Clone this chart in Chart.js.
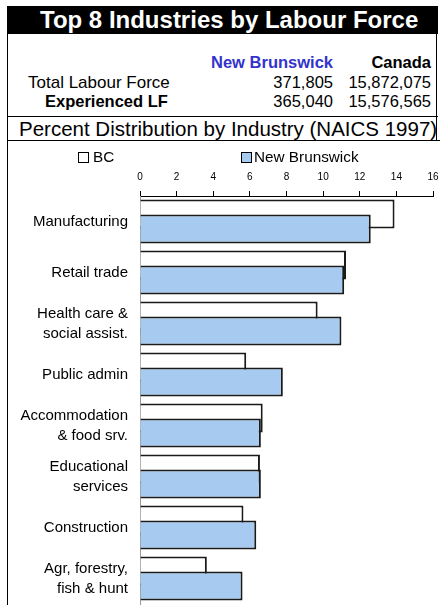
<!DOCTYPE html>
<html>
<head>
<meta charset="utf-8">
<script src="https://cdn.jsdelivr.net/npm/chart.js@4"></script>
<style>
  body { margin: 0; background: #fff; font-family: "Liberation Sans", Arial, sans-serif; }
  #page { position: relative; width: 440px; height: 605px; overflow: hidden; }
  .abs { position: absolute; white-space: nowrap; }
  #title { left: 7px; top: 6px; width: 431px; height: 28px; background: #000; color: #fff; box-sizing: border-box;
           font-weight: bold; font-size: 24px; line-height: 28px; padding-left: 33px; }
  #table { left: 7px; top: 34px; width: 430px; height: 107px; border-left: 1px solid #000; border-right: 1px solid #000; box-sizing: border-box; }
  #line1 { left: 7px; top: 116px; width: 431px; height: 1px; background: #000; }
  #line2 { left: 7px; top: 140px; width: 433px; height: 1px; background: #000; }
  .t { font-size: 16.5px; line-height: 19px; }
  .r { text-align: right; }
  #chartBox { left: 7px; top: 141px; width: 433px; height: 464px; border-left: 1px solid #000; box-sizing: border-box; }
  #chartWrap { position: absolute; left: 0; top: 0; width: 431px; height: 464px; }
  .lgBox { position: absolute; width: 9px; height: 9px; border: 1px solid #000; }
  .lgTxt { position: absolute; font-size: 15.3px; line-height: 18px; }
</style>
</head>
<body>
<div id="page">
  <div id="title" class="abs">Top 8 Industries by Labour Force</div>
  <div id="table" class="abs"></div>
  <div class="abs t r" style="left:180px; top:53px; width:153px; font-weight:bold; color:#3333cc;">New Brunswick</div>
  <div class="abs t r" style="left:340px; top:53px; width:91px; font-weight:bold;">Canada</div>
  <div class="abs t" style="left:28px; top:73px; font-size:17px;" id="row1"></div>
  <div class="abs t r" style="left:240px; top:73px; width:93px;" id="nbTotal"></div>
  <div class="abs t r" style="left:330px; top:73px; width:101px;" id="caTotal"></div>
  <div class="abs t" style="left:45px; top:92px; font-weight:bold;" id="row2"></div>
  <div class="abs t r" style="left:240px; top:92px; width:93px;" id="nbExp"></div>
  <div class="abs t r" style="left:330px; top:92px; width:101px;" id="caExp"></div>
  <div id="line1" class="abs"></div>
  <div class="abs" style="left:19px; top:117px; font-size:20.5px; line-height:24px;">Percent Distribution by Industry (NAICS 1997)</div>
  <div id="line2" class="abs"></div>
  <div id="chartBox" class="abs">
    <div id="chartWrap"><canvas id="industryChart"></canvas></div>
    <div class="lgBox" style="left:70px; top:11px; background:#fff;"></div>
    <div class="lgTxt" style="left:85px; top:7px;">BC</div>
    <div class="lgBox" style="left:233px; top:11px; background:#a6caf0;"></div>
    <div class="lgTxt" style="left:246px; top:7px;">New Brunswick</div>
  </div>
</div>
<script>
// Labour force figures
const labourRows = ['Total Labour Force', 'Experienced LF'];
const nbLabour = ['371,805', '365,040'];
const canadaLabour = ['15,872,075', '15,576,565'];

// Percent distribution by industry
const industries = [
  ['Manufacturing'],
  ['Retail trade'],
  ['Health care &', 'social assist.'],
  ['Public admin'],
  ['Accommodation', '& food srv.'],
  ['Educational', 'services'],
  ['Construction'],
  ['Agr, forestry,', 'fish & hunt']
];
const bcValues = [13.9, 11.25, 9.7, 5.8, 6.7, 6.55, 5.65, 3.65];
const nbValues = [12.6, 11.15, 11.0, 7.8, 6.6, 6.6, 6.35, 5.6];
const xTicks = [0, 2, 4, 6, 8, 10, 12, 14, 16];

document.getElementById('row1').textContent = labourRows[0];
document.getElementById('row2').textContent = labourRows[1];
document.getElementById('nbTotal').textContent = nbLabour[0];
document.getElementById('caTotal').textContent = canadaLabour[0];
document.getElementById('nbExp').textContent = nbLabour[1];
document.getElementById('caExp').textContent = canadaLabour[1];

Chart.defaults.font.family = '"Liberation Sans", Arial, sans-serif';
Chart.defaults.color = '#000';

const ctx = document.getElementById('industryChart').getContext('2d');
new Chart(ctx, {
  type: 'bar',
  data: {
    labels: industries,
    datasets: [
      // empty placeholder so BC keeps the upper slot while NB is drawn over it
      { label: '', data: [], stack: 'bc', order: -1 },
      {
        label: 'New Brunswick',
        data: nbValues,
        stack: 'nb',
        order: 0,
        backgroundColor: '#a6caf0',
        borderColor: '#1a1a1a',
        borderWidth: 2
      },
      {
        label: 'BC',
        data: bcValues,
        stack: 'bc',
        order: 1,
        backgroundColor: '#ffffff',
        borderColor: '#1a1a1a',
        borderWidth: 2
      }
    ]
  },
  options: {
    indexAxis: 'y',
    responsive: true,
    maintainAspectRatio: false,
    animation: false,
    categoryPercentage: 30 / 51,
    barPercentage: 29 / 15,
    layout: { padding: { top: 22, right: 6, bottom: 1, left: 0 } },
    plugins: {
      legend: { display: false },
      tooltip: { enabled: false }
    },
    scales: {
      x: {
        position: 'top',
        min: 0,
        max: 16,
        stacked: false,
        afterBuildTicks: (scale) => { scale.ticks = xTicks.map(v => ({ value: v })); },
        afterFit: (scale) => { scale.paddingLeft = 0; scale.paddingRight = 0; },
        ticks: { font: { size: 10 }, padding: 8, maxRotation: 0 },
        grid: { drawOnChartArea: false, drawTicks: true, tickLength: 5, color: '#000' },
        border: { color: '#000', width: 1 }
      },
      y: {
        afterFit: (scale) => {
          scale.width = 132;
          // labels sit inside the category bands, no extra room needed
          scale.paddingTop = 0;
          scale.paddingBottom = 0;
        },
        ticks: { font: { size: 15, lineHeight: 1.33 }, padding: 12 },
        grid: { drawOnChartArea: false, drawTicks: false },
        border: { color: '#999', width: 1 }
      }
    }
  }
});
</script>
</body>
</html>
